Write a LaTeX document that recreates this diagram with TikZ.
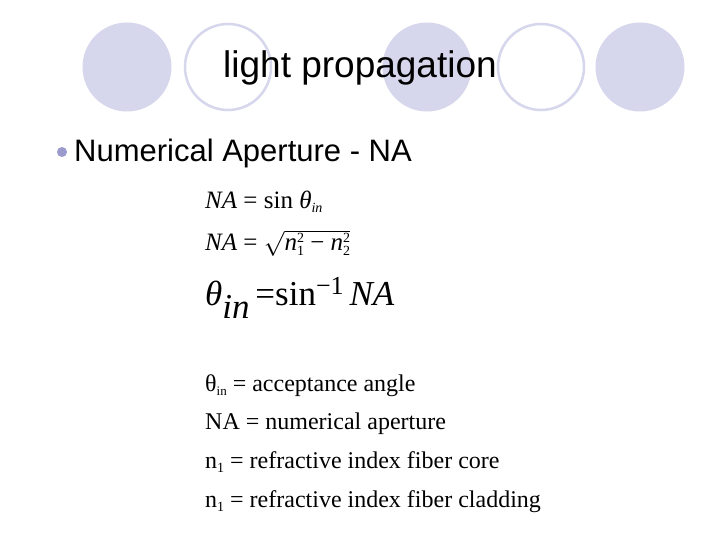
\documentclass[tikz,border=0pt]{standalone}
\usepackage{fontspec}
\setmainfont{Liberation Serif}
\newfontfamily\arialf{Liberation Sans}
\definecolor{lav}{HTML}{D6D6EC}
\definecolor{bul}{HTML}{9A9ACC}
\newcommand{\iv}[1]{\textit{#1}}
\begin{document}
\begin{tikzpicture}[x=1pt,y=-1pt,
  fc/.style={fill=lav,draw=none},
  oc/.style={draw=lav,line width=2.5pt,fill=white},
  eq/.style={anchor=base west,inner sep=0pt,font=\fontsize{25}{26}\selectfont},
  lbl/.style={anchor=base west,inner sep=0pt,font=\fontsize{24}{26}\selectfont}]
\useasboundingbox (0,0) rectangle (720,540);
\fill[white] (0,0) rectangle (720,540);
\node[fc,circle,minimum size=89pt,inner sep=0pt] (c1) at (127,67) {};
\node[oc,circle,minimum size=86pt,inner sep=0pt] (c2) at (228,67) {};
\node[fc,circle,minimum size=89pt,inner sep=0pt] (c3) at (427,67) {};
\node[oc,circle,minimum size=86pt,inner sep=0pt] (c4) at (541,67) {};
\node[fc,circle,minimum size=89pt,inner sep=0pt] (c5) at (640,67) {};
\node[inner sep=0pt,font=\arialf\fontsize{37}{40}\selectfont] (title) at (360,68) {light propagation};
\node[circle,fill=bul,minimum size=10pt,inner sep=0pt] (bullet) at (62,152) {};
\node[anchor=base west,inner sep=0pt,font=\arialf\fontsize{31}{34}\selectfont] (na) at (74,162) {Numerical Aperture - NA};
\node[eq] (e1) at (205,208) {\iv{NA} = sin \iv{θ}\raisebox{-4pt}{\fontsize{14}{14}\selectfont\iv{in}}};
\node[eq] (e2) at (205,251) {\iv{NA} = $\sqrt{\hbox{\iv{n}\rlap{\raisebox{9pt}{\fontsize{14}{14}\selectfont 2}}\raisebox{-5pt}{\fontsize{14}{14}\selectfont 1} − \iv{n}\rlap{\raisebox{9pt}{\fontsize{14}{14}\selectfont 2}}\raisebox{-5pt}{\fontsize{14}{14}\selectfont 2}}}$};
\node[eq,font=\fontsize{35}{38}\selectfont] (e3) at (205,305) {\iv{θ}\raisebox{-13pt}{\iv{in}}\,=sin\raisebox{11pt}{\fontsize{26}{28}\selectfont −1}\,\iv{NA}};
\node[lbl] (l1) at (205,391) {θ\raisebox{-4pt}{\fontsize{13}{14}\selectfont in} = acceptance angle};
\node[lbl] (l2) at (205,429) {NA = numerical aperture};
\node[lbl] (l3) at (205,468) {n\raisebox{-4pt}{\fontsize{14}{14}\selectfont 1} = refractive index fiber core};
\node[lbl] (l4) at (205,507) {n\raisebox{-4pt}{\fontsize{14}{14}\selectfont 1} = refractive index fiber cladding};
\end{tikzpicture}
\end{document}
